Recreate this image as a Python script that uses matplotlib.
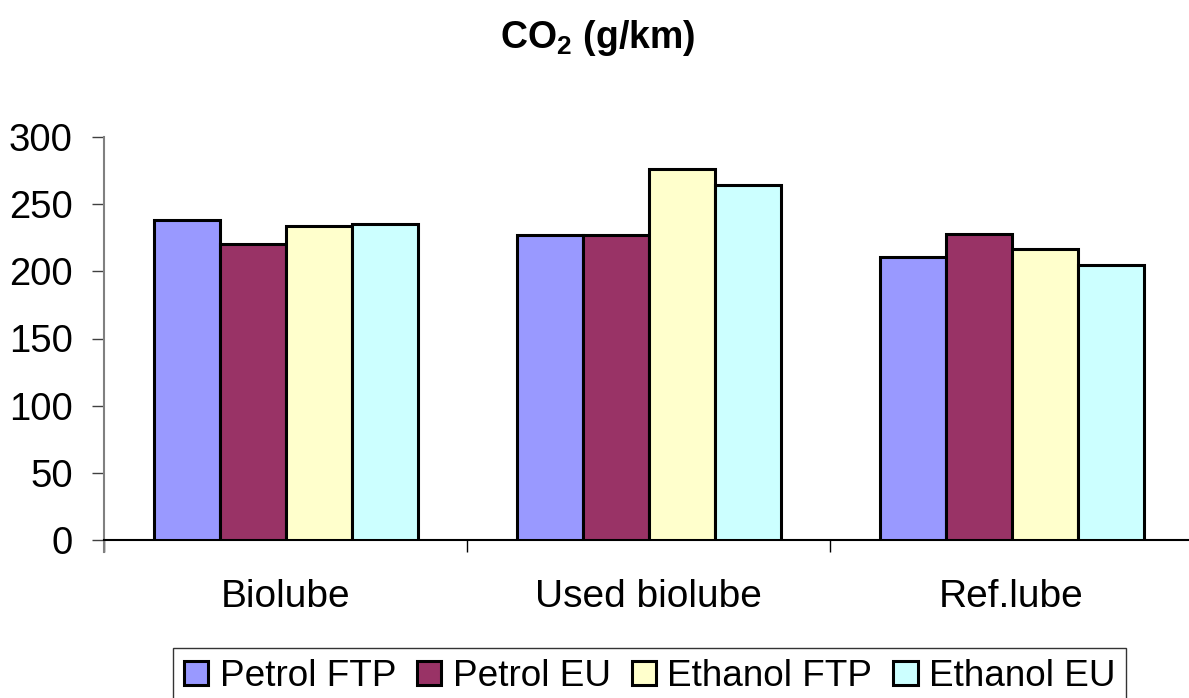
import numpy as np
import matplotlib.pyplot as plt

plt.rcParams["font.family"] = ["Liberation Sans", "DejaVu Sans"]
plt.rcParams["mathtext.fontset"] = "custom"
plt.rcParams["mathtext.rm"] = "Liberation Sans:bold"
plt.rcParams["mathtext.it"] = "Liberation Sans:bold"
plt.rcParams["mathtext.bf"] = "Liberation Sans:bold"

# CO2 emissions per lubricant and test cycle
categories = ["Biolube", "Used biolube", "Ref.lube"]
series_names = ["Petrol FTP", "Petrol EU", "Ethanol FTP", "Ethanol EU"]
petrol_ftp = [238.5, 227, 211]
petrol_eu = [220, 227, 228]
ethanol_ftp = [234, 276, 216.5]
ethanol_eu = [235, 264, 205]
y_ticks = [0, 50, 100, 150, 200, 250, 300]

colors = ["#9999FF", "#993366", "#FFFFCC", "#CCFFFF"]


def main():
    fig = plt.figure(figsize=(11.89, 6.98), dpi=100)
    ax = fig.add_axes([104 / 1189, 158 / 698, 1089 / 1189, 403 / 698])

    values = [petrol_ftp, petrol_eu, ethanol_ftp, ethanol_eu]
    x = np.arange(len(categories))
    width = 1 / 5.5

    for i, (name, vals) in enumerate(zip(series_names, values)):
        offset = (i - 1.5) * width
        ax.bar(x + offset, vals, width, color=colors[i], edgecolor="black",
               linewidth=2.2, label=name, zorder=3)

    ax.set_xlim(-0.5, len(categories) - 0.5)
    ax.set_ylim(0, 300)
    ax.set_yticks(y_ticks)

    # labels sit at the group centres, tick marks at the group boundaries
    ax.set_xticks(x)
    ax.set_xticklabels(categories)
    ax.set_xticks(np.arange(len(categories) + 1) - 0.5, minor=True)
    ax.tick_params(axis="x", which="major", length=0, pad=28, labelsize=28)
    ax.tick_params(axis="x", which="minor", length=8.6, width=1, color="black",
                   direction="out")
    ax.tick_params(axis="y", length=8.6, width=1, color="#404040", pad=14,
                   labelsize=27.5)

    for side in ["top", "right"]:
        ax.spines[side].set_visible(False)
    ax.spines["left"].set_color("#808080")
    ax.spines["left"].set_linewidth(1.5)
    ax.spines["left"].set_bounds(-9, 300)
    ax.spines["bottom"].set_color("black")
    ax.spines["bottom"].set_linewidth(1.5)

    fig.text(0.503, 1 - 38 / 698, "CO$_2$ (g/km)", ha="center", va="center",
             fontsize=27, fontweight="bold")

    leg = fig.legend(loc="upper left", bbox_to_anchor=(173 / 1189, 1 - 648 / 698),
                     ncol=4, fontsize=26.6, frameon=True, fancybox=False,
                     handlelength=0.66, handleheight=0.65, handletextpad=0.3,
                     columnspacing=0.57, borderpad=0.3, borderaxespad=0)
    leg.get_frame().set_edgecolor("black")
    leg.get_frame().set_linewidth(1)

    fig.savefig("out.png", dpi=100)


if __name__ == "__main__":
    main()
